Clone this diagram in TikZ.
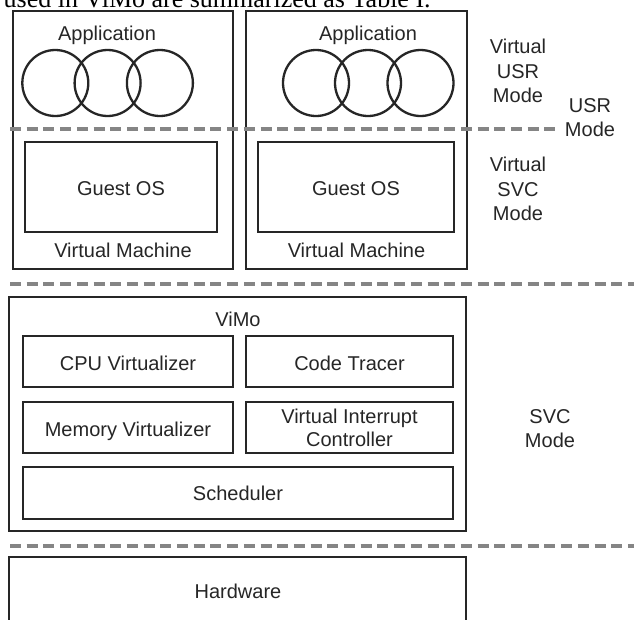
\documentclass[tikz,border=0pt]{standalone}
\usepackage{fontspec}
\setmainfont{Liberation Sans}
\newfontfamily\bodyserif{Liberation Serif}
\definecolor{ink}{HTML}{262626}
\definecolor{modeline}{HTML}{858585}
\tikzset{
  box/.style={draw=ink, line width=2.3pt, rectangle, inner sep=0pt},
  lbl/.style={text=ink, inner sep=0pt, anchor=base, font=\fontsize{20}{24.5}\selectfont},
  modelbl/.style={lbl, align=center, anchor=north},
  app/.style={draw=ink, line width=2.3pt, circle, inner sep=0pt, minimum size=66pt},
  boundary/.style={draw=modeline, line width=3.6pt, dash pattern=on 11pt off 5.7pt}
}
\newcommand{\boxat}[5]{% name, x1, y1, x2, y2
  \node[box, minimum width={#4-#2}, minimum height={#5-#3}] (#1) at ({(#2+#4)/2},{(#3+#5)/2}) {};}
\begin{document}
\begin{tikzpicture}[x=1pt,y=-1pt]
  \clip (0,0) rectangle (634,619);
  \fill[white] (0,0) rectangle (634,619);

  % running text of the page above the figure
  \node[inner sep=0pt, anchor=base west, font=\bodyserif\fontsize{26}{30}\selectfont] (caption) at (3.5,7.3)
    {used in ViMo are summarized as Table I.};

  % virtual machines
  \boxat{vmA}{13}{11}{233}{269}
  \boxat{vmB}{246}{11}{467}{269}
  \boxat{osA}{25}{142}{217}{232}
  \boxat{osB}{258}{142}{454}{232}

  \node[app] (a1) at (55.3,83) {};
  \node[app] (a2) at (107.6,83) {};
  \node[app] (a3) at (159.9,83) {};
  \node[app] (b1) at (316,83) {};
  \node[app] (b2) at (368,83) {};
  \node[app] (b3) at (420.5,83) {};

  \node[lbl] (appA) at (107,40) {Application};
  \node[lbl] (appB) at (368,40) {Application};
  \node[lbl] (gosA) at (121,195.5) {Guest OS};
  \node[lbl] (gosB) at (356,195.5) {Guest OS};
  \node[lbl] (vmlA) at (123,257) {Virtual Machine};
  \node[lbl] (vmlB) at (356.5,257) {Virtual Machine};

  % the monitor
  \boxat{vimo}{9}{297}{466}{531}
  \boxat{cpu}{23}{336}{233}{387}
  \boxat{tracer}{246}{336}{453}{387}
  \boxat{mem}{23}{402}{233}{453}
  \boxat{vic}{246}{402}{453}{453}
  \boxat{sched}{23}{467}{453}{519}
  \node[lbl] (vimol) at (238,326.7) {ViMo};
  \node[lbl] (cpul) at (128,370.7) {CPU Virtualizer};
  \node[lbl] (tracerl) at (349.5,370.7) {Code Tracer};
  \node[lbl] (meml) at (128,436.5) {Memory Virtualizer};
  \node[lbl, align=center, anchor=north, font=\fontsize{20}{23}\selectfont] (vicl) at (349.5,408.5) {Virtual Interrupt\\Controller};
  \node[lbl] (schedl) at (238,500) {Scheduler};

  % hardware
  \boxat{hw}{9}{557}{466}{640}
  \node[lbl] (hwl) at (238,598.3) {Hardware};

  % privilege boundaries
  \coordinate (u0) at (10,129);  \coordinate (u1) at (556,129);
  \coordinate (s0) at (10,284);  \coordinate (s1) at (640,284);
  \coordinate (h0) at (10,546);  \coordinate (h1) at (640,546);
  \draw[boundary] (u0) -- (u1);
  \draw[boundary] (s0) -- (s1);
  \draw[boundary] (h0) -- (h1);

  % processor modes
  \node[modelbl] (vusr) at (518,39) {Virtual\\USR\\Mode};
  \node[modelbl] (usr) at (590,98) {USR\\Mode};
  \node[modelbl] (vsvc) at (518,157) {Virtual\\SVC\\Mode};
  \node[modelbl] (svc) at (550,409) {SVC\\Mode};
\end{tikzpicture}
\end{document}
